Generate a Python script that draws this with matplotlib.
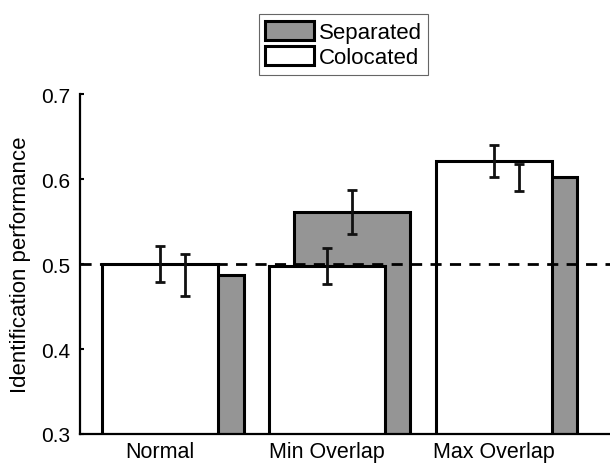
import numpy as np
import matplotlib
matplotlib.use("Agg")
import matplotlib.pyplot as plt
from matplotlib.patches import Patch

plt.rcParams["font.family"] = ["Liberation Sans", "DejaVu Sans"]

categories = ["Normal", "Min Overlap", "Max Overlap"]
colocated = [0.500, 0.498, 0.621]
colocated_err = [0.021, 0.021, 0.019]
separated = [0.487, 0.561, 0.602]
separated_err = [0.025, 0.026, 0.016]
chance = 0.5

GREY = "#959595"


def main():
    fig = plt.figure(figsize=(6.10, 4.64), dpi=100)
    ax = fig.add_axes([0.131, 0.0625, 0.869, 0.7325])

    x = np.arange(1, len(categories) + 1)
    width = 0.7
    shift = 0.15

    ax.bar(x + shift, separated, width, color=GREY,
           edgecolor="black", linewidth=2.2, zorder=1)
    ax.bar(x, colocated, width, color="white",
           edgecolor="black", linewidth=2.2, zorder=2)

    ax.axhline(chance, color="black", linestyle=(0, (4, 3)), linewidth=2, zorder=3)

    ax.errorbar(x, colocated, yerr=colocated_err, fmt="none", ecolor="#111111",
                elinewidth=2, capsize=3.5, capthick=2, zorder=4)
    ax.errorbar(x + shift, separated, yerr=separated_err, fmt="none", ecolor="#111111",
                elinewidth=2, capsize=3.5, capthick=2, zorder=4)

    ax.set_xlim(0.52, 3.695)
    ax.set_ylim(0.3, 0.7)
    ax.set_yticks([0.3, 0.4, 0.5, 0.6, 0.7])
    ax.set_yticklabels(["0.3", "0.4", "0.5", "0.6", "0.7"])
    ax.set_xticks(x)
    ax.set_xticklabels(categories)
    ax.tick_params(axis="y", direction="in", length=3, width=1.5, labelsize=15, pad=7)
    ax.tick_params(axis="x", length=0, labelsize=15.5, pad=5)
    ax.set_ylabel("Identification performance", fontsize=16, labelpad=7)

    for side in ["top", "right"]:
        ax.spines[side].set_visible(False)
    for side in ["left", "bottom"]:
        ax.spines[side].set_linewidth(1.6)
        ax.spines[side].set_zorder(5)

    handles = [
        Patch(facecolor=GREY, edgecolor="black", linewidth=2.2, label="Separated"),
        Patch(facecolor="white", edgecolor="black", linewidth=2.2, label="Colocated"),
    ]
    leg = fig.legend(handles=handles, loc="upper center", bbox_to_anchor=(0.563, 0.968),
                     fontsize=16, handlelength=2.2, handleheight=0.95,
                     handletextpad=0.2, labelspacing=0.15, borderpad=0.3,
                     borderaxespad=0, fancybox=False, framealpha=1)
    leg.get_frame().set_edgecolor("#666666")
    leg.get_frame().set_linewidth(0.8)

    fig.savefig("out.png", dpi=100)
    plt.close(fig)


if __name__ == "__main__":
    main()
